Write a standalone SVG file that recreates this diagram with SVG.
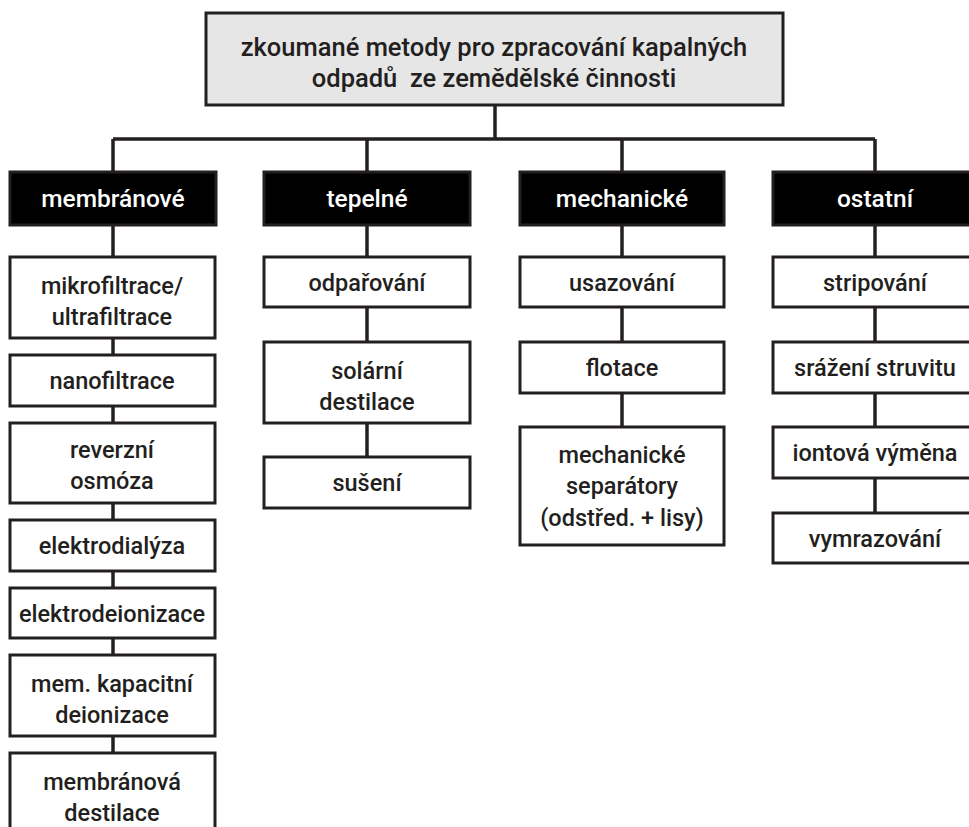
<svg xmlns="http://www.w3.org/2000/svg" width="969" height="827" viewBox="0 0 969 827">
<style>
.box{fill:#ffffff;stroke:#231f20;stroke-width:3}
.cat{fill:#000000;stroke:#231f20;stroke-width:3}
.root{fill:#e6e6e6;stroke:#231f20;stroke-width:3}
.t{font-family:Roboto,"Liberation Sans",sans-serif;font-weight:500;font-size:23.5px;fill:#231f20;text-anchor:middle}
.ct{font-family:Roboto,"Liberation Sans",sans-serif;font-weight:500;font-size:24.5px;fill:#ffffff;text-anchor:middle}
.rt{font-family:Roboto,"Liberation Sans",sans-serif;font-weight:500;font-size:25.5px;fill:#231f20;text-anchor:middle;white-space:pre}
.c{fill:none;stroke:#231f20;stroke-width:3.5}
</style>
<rect width="969" height="827" fill="#ffffff"/>
<g id="connectors">
<path class="c" d="M495 105V139M113 139H875M113 139V172M367 139V172M622 139V172M875 139V172"/>
<path class="c" d="M113 225V826"/>
<path class="c" d="M367 225V507"/>
<path class="c" d="M622 225V545"/>
<path class="c" d="M875 225V563"/>
</g>
<g id="root"><rect class="root" x="206" y="13" width="577" height="92"/>
<text class="rt" x="494" y="56">zkoumané metody pro zpracování kapalných</text>
<text class="rt" x="494" y="87" xml:space="preserve">odpadů  ze zemědělské činnosti</text></g>
<g id="cat-membranove"><rect class="cat" x="10" y="172" width="206" height="53"/><text class="ct" x="113" y="207">membránové</text></g>
<g id="cat-tepelne"><rect class="cat" x="264" y="172" width="206" height="53"/><text class="ct" x="367" y="207">tepelné</text></g>
<g id="cat-mechanicke"><rect class="cat" x="520" y="172" width="204" height="53"/><text class="ct" x="622" y="207">mechanické</text></g>
<g id="cat-ostatni"><rect class="cat" x="773" y="172" width="206" height="53"/><text class="ct" x="875" y="207">ostatní</text></g>
<g id="mikrofiltrace"><rect class="box" x="10" y="257" width="205" height="81"/><text class="t" x="112" y="294">mikrofiltrace/</text><text class="t" x="112" y="325">ultrafiltrace</text></g>
<g id="nanofiltrace"><rect class="box" x="10" y="355" width="205" height="51"/><text class="t" x="112" y="389">nanofiltrace</text></g>
<g id="reverzni-osmoza"><rect class="box" x="10" y="423" width="205" height="80"/><text class="t" x="112" y="458">reverzní</text><text class="t" x="112" y="489">osmóza</text></g>
<g id="elektrodialyza"><rect class="box" x="10" y="520" width="205" height="51"/><text class="t" x="112" y="554">elektrodialýza</text></g>
<g id="elektrodeionizace"><rect class="box" x="10" y="588" width="205" height="50"/><text class="t" x="112" y="622">elektrodeionizace</text></g>
<g id="mem-kapacitni"><rect class="box" x="10" y="655" width="205" height="81"/><text class="t" x="112" y="692">mem. kapacitní</text><text class="t" x="112" y="723">deionizace</text></g>
<g id="membranova-destilace"><rect class="box" x="10" y="753" width="205" height="90"/><text class="t" x="112" y="790">membránová</text><text class="t" x="112" y="821">destilace</text></g>
<g id="odparovani"><rect class="box" x="264" y="257" width="206" height="50"/><text class="t" x="367" y="291">odpařování</text></g>
<g id="solarni-destilace"><rect class="box" x="264" y="342" width="206" height="81"/><text class="t" x="367" y="379">solární</text><text class="t" x="367" y="410">destilace</text></g>
<g id="suseni"><rect class="box" x="264" y="457" width="206" height="51"/><text class="t" x="367" y="491">sušení</text></g>
<g id="usazovani"><rect class="box" x="520" y="257" width="204" height="50"/><text class="t" x="622" y="291">usazování</text></g>
<g id="flotace"><rect class="box" x="520" y="342" width="204" height="51"/><text class="t" x="622" y="376">flotace</text></g>
<g id="mechanicke-separatory"><rect class="box" x="520" y="427" width="204" height="118"/><text class="t" x="622" y="463">mechanické</text><text class="t" x="622" y="494">separátory</text><text class="t" x="622" y="526">(odstřed. + lisy)</text></g>
<g id="stripovani"><rect class="box" x="773" y="257" width="206" height="50"/><text class="t" x="875" y="291">stripování</text></g>
<g id="srazeni-struvitu"><rect class="box" x="773" y="342" width="206" height="51"/><text class="t" x="875" y="376">srážení struvitu</text></g>
<g id="iontova-vymena"><rect class="box" x="773" y="427" width="206" height="51"/><text class="t" x="875" y="461">iontová výměna</text></g>
<g id="vymrazovani"><rect class="box" x="773" y="513" width="206" height="50"/><text class="t" x="875" y="547">vymrazování</text></g>
</svg>
